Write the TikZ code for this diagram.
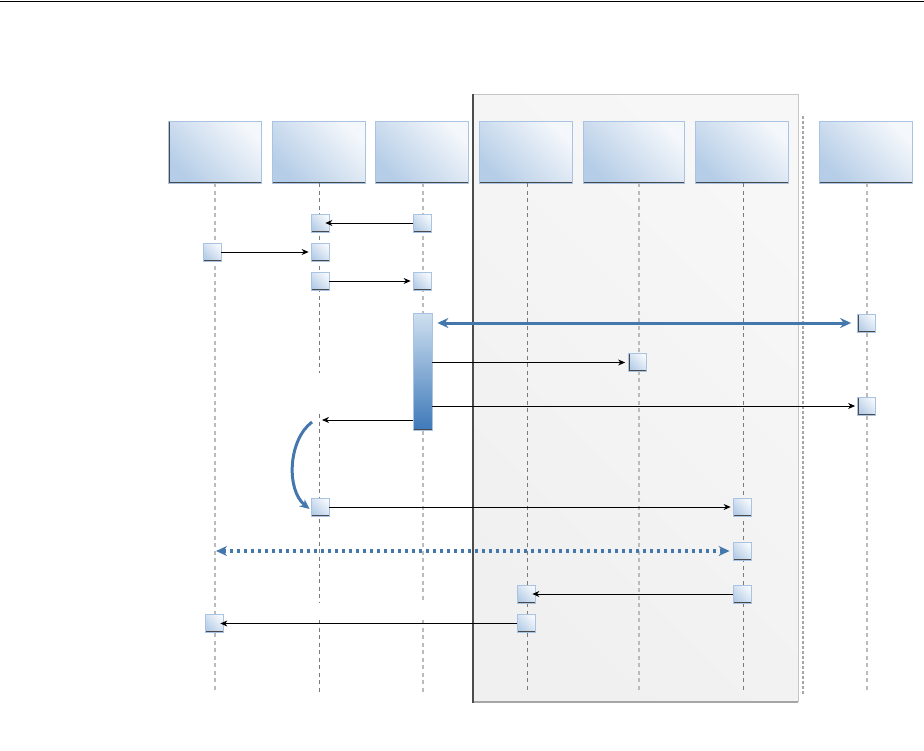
\documentclass[tikz,border=0pt]{standalone}
\usetikzlibrary{arrows.meta}
\definecolor{hdA}{HTML}{B5CDE7}
\definecolor{hdB}{HTML}{F4F7FB}
\definecolor{hdEdge}{HTML}{A9C4E2}
\definecolor{shadowc}{HTML}{4A4A4A}
\definecolor{blueL}{HTML}{4477AC}
\definecolor{actTop}{HTML}{CFE0F0}
\definecolor{actBot}{HTML}{3E79B9}
\definecolor{panelA}{HTML}{F0F0F0}
\definecolor{panelB}{HTML}{F7F7F7}
\definecolor{llDark}{HTML}{7A7A7A}
\definecolor{llLight}{HTML}{BBBBBB}
\tikzset{
  edgeshadow/.style={path picture={\draw[line width=2.4pt, shadowc]
      (path picture bounding box.north west) -- (path picture bounding box.south west)
      -- (path picture bounding box.south east);}},
  header/.style={minimum width=93pt, minimum height=62pt, inner sep=0pt,
      draw=hdEdge, line width=0.8pt, left color=hdA, right color=hdB, shading angle=135, edgeshadow},
  sq/.style={minimum size=18pt, inner sep=0pt,
      draw=hdEdge, line width=0.8pt, left color=hdA, right color=hdB, shading angle=135, edgeshadow},
  actbar/.style={minimum width=19pt, minimum height=117pt, inner sep=0pt,
      draw=hdEdge, line width=0.8pt, top color=actTop, bottom color=actBot, edgeshadow},
  msg/.style={draw=black, line width=0.8pt, -{Stealth[length=7pt,width=6pt]}},
  bigmsg/.style={draw=blueL, line width=3pt, {Stealth[length=11pt,width=10pt]}-{Stealth[length=11pt,width=10pt]}},
  dotmsg/.style={draw=blueL, line width=3.5pt, dash pattern=on 3.5pt off 3.5pt,
      {Stealth[length=11pt,width=10pt]}-{Stealth[length=11pt,width=10pt]}},
  curvemsg/.style={draw=blueL, line width=3pt, -{Stealth[length=10pt,width=9pt]}},
  lldark/.style={draw=llDark, line width=0.9pt, dash pattern=on 4pt off 3.5pt},
  lllight/.style={draw=llLight, line width=1.4pt, dash pattern=on 4pt off 3.5pt},
}
\begin{document}
\begin{tikzpicture}[x=1pt, y=-1pt]
\useasboundingbox (0,0) rectangle (924,750);
% top rule
\draw[line width=1.2pt, black] (0,1.5) -- (924,1.5);
% panel
\path[left color=panelA, right color=panelB, shading angle=135] (472,94) rectangle (798,702);
\draw[line width=1pt, draw=black!22] (472,94) -- (798,94) -- (798,702);
\draw[line width=1.6pt, draw=black!35] (473,702) -- (798,702);
\draw[line width=1.3pt, draw=black!70] (473,94) -- (473,703);
% separator
\draw[draw=black!35, line width=2.2pt, dash pattern=on 2.5pt off 2.5pt] (803,116) -- (803,695);
% headers
\node[header] (h1) at (215,152) {};
\node[header] (h2) at (318.5,152) {};
\node[header] (h3) at (421.5,152) {};
\node[header] (h4) at (525.5,152) {};
\node[header, minimum width=101pt] (h5) at (633.5,152) {};
\node[header] (h6) at (741.5,152) {};
\node[header] (h7) at (865.5,152) {};
% lifelines
\coordinate (e1) at (215,693);
\coordinate (e2) at (319,693);
\coordinate (e3) at (423,693);
\coordinate (e4) at (527,693);
\coordinate (e5) at (639,693);
\coordinate (e6) at (743,693);
\coordinate (e7) at (867,693);
\draw[lllight] (h1.south -| e1) -- (e1);
\draw[lldark] (h2.south -| e2) -- (319,373);
\draw[lldark] (319,414) -- (319,603);
\draw[lldark] (319,620) -- (e2);
\draw[lllight] (h3.south -| e3) -- (423,603);
\draw[lllight] (423,620) -- (e3);
\draw[lldark] (h4.south -| e4) -- (e4);
\draw[lllight] (h5.south -| e5) -- (e5);
\draw[lldark] (h6.south -| e6) -- (e6);
\draw[lllight] (h7.south -| e7) -- (e7);
% squares
\node[sq] (a2) at (320,223) {};
\node[sq] (a3) at (422,223) {};
\node[sq] (b1) at (212,252) {};
\node[sq] (b2) at (320,252) {};
\node[sq] (c2) at (320,281) {};
\node[sq] (c3) at (422,281) {};
\node[actbar] (act) at (422.5,371.5) {};
\node[sq] (d7) at (866.5,323) {};
\node[sq] (f5) at (637.5,362.5) {};
\node[sq] (g7) at (866.5,406) {};
\node[sq] (i2) at (320,507) {};
\node[sq] (i6) at (742,507) {};
\node[sq] (j6) at (742,551) {};
\node[sq] (k4) at (526,594) {};
\node[sq] (k6) at (742,594) {};
\node[sq] (l1) at (214,623.5) {};
\node[sq] (l4) at (526,623.5) {};
% messages
\draw[msg] (a3.west) -- ([xshift=-4pt]a2.east);
\draw[msg] (b1.east) -- ([xshift=-2pt]b2.west);
\draw[msg] (c2.east) -- ([xshift=-2pt]c3.west);
\draw[bigmsg] ([xshift=5pt]act.east |- d7) -- ([xshift=-6pt]d7.west);
\draw[msg] (act.east |- f5) -- ([xshift=-3pt]f5.west);
\draw[msg] (act.east |- g7) -- ([xshift=-2pt]g7.west);
\coordinate (r1) at (322,420);
\draw[msg] (act.west |- r1) -- (r1);
\coordinate (cv) at (312,422);
\draw[curvemsg] (cv) .. controls (288,440) and (286,490) .. ([xshift=-1pt,yshift=-2pt]i2.west);
\draw[msg] (i2.east) -- ([xshift=-2pt]i6.west);
\coordinate (dl) at (216,551);
\draw[dotmsg] (dl) -- ([xshift=-3pt]j6.west);
\draw[msg] (k6.west) -- ([xshift=-3pt]k4.east);
\draw[msg] (l4.west) -- ([xshift=-3pt]l1.east);
\end{tikzpicture}
\end{document}
